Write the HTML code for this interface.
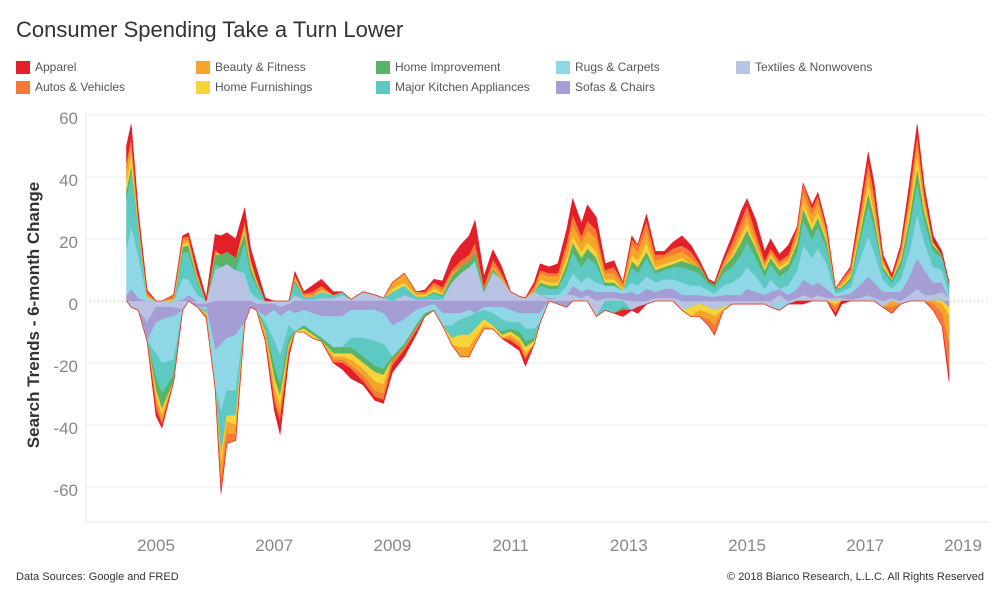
<!DOCTYPE html>
<html><head><meta charset="utf-8"><style>
body{margin:0;background:#fff;font-family:"Liberation Sans",sans-serif;}
#wrap{position:relative;width:1000px;height:600px;overflow:hidden;}
.lg{position:absolute;font-size:12px;color:#555;}
.lg span{position:absolute;left:0;top:1px;width:14px;height:13px;}
.lg b{font-weight:normal;position:absolute;left:19px;top:0;white-space:nowrap;}
</style></head><body>
<div id="wrap">
<div style="position:absolute;left:16px;top:17px;font-size:22px;color:#333;">Consumer Spending Take a Turn Lower</div>
<div id="legend"></div>
<svg id="chart" width="1000" height="600" style="position:absolute;left:0;top:0;"></svg>
<div style="position:absolute;left:16px;top:571px;font-size:11px;color:#333;">Data Sources: Google and FRED</div>
<div style="position:absolute;right:16px;top:571px;font-size:11px;color:#333;">© 2018 Bianco Research, L.L.C. All Rights Reserved</div>
</div>
<script>
const dates=[2004.5,2004.58,2004.7,2004.85,2005.0,2005.1,2005.3,2005.45,2005.55,2005.7,2005.85,2006.0,2006.1,2006.2,2006.35,2006.5,2006.6,2006.7,2006.85,2007.0,2007.1,2007.25,2007.35,2007.5,2007.65,2007.8,2008.0,2008.15,2008.3,2008.5,2008.7,2008.85,2009.0,2009.2,2009.4,2009.55,2009.7,2009.85,2010.0,2010.15,2010.3,2010.4,2010.55,2010.7,2010.85,2011.0,2011.15,2011.25,2011.4,2011.5,2011.65,2011.8,2011.95,2012.05,2012.2,2012.3,2012.45,2012.6,2012.75,2012.9,2013.05,2013.15,2013.3,2013.45,2013.6,2013.75,2013.9,2014.05,2014.2,2014.35,2014.45,2014.6,2014.75,2014.9,2015.0,2015.15,2015.3,2015.4,2015.55,2015.7,2015.85,2015.95,2016.1,2016.2,2016.35,2016.5,2016.6,2016.75,2016.9,2017.05,2017.15,2017.3,2017.45,2017.6,2017.75,2017.88,2018.0,2018.15,2018.3,2018.42];
const apparel=[5,4,2,0.5,-2,-1,0,0.5,1,2, 1,5,6,6,6,4,3,3,1,-2, -4,-1,1,0.5,2,2,1,-2,-3,-1, -1,-1,-2,-2,-1,0.5,1,2,4,5, 6,7,3,3,2,-1,-1,-2,1,2, 2,3,4,5,4,5,4,2,2,-2, 1,-2,2,1,1,2,3,2,1,0.5, 0.5,1,2,3,2,4,3,3,2,3, -1,-1,1,1,1,-1,-1,0.5,2,3, 3,1,1,1,3,3,2,2,1,-2];
const autos=[2,2,1,1,-2,-1,1,1,1,1, -0.5,0.5,-4,-3,-2,1,1,0.5,-1,-2, -2,-1,0.5,0.5,1,1,-1,-1,-1,-2, -2,-2,-2,-1,-1,0.5,1,1,1,2, 2,3,1,2,1,-1,-1,-1,1,1, 1,1,2,3,2,3,3,1,2,1, 2,2,3,2,1,2,2,2,1,-2, -3,1,2,3,3,2,1,1,1,1, 2,3,2,2,1,-2,1,1,2,3, 3,1,-2,1,2,3,2,-2,-4,-10];
const beauty=[4,3,1,0.5,-2,-2,0.5,1,1,0.5, -0.5,0.5,-5,-4,-3,2,1,0.5,-1,-3, -3,-1,0.5,0.5,0.5,0.5,-1,-1,-2,-2, -3,-3,2,3,1,0.5,1,1,1,-3, -3,-2,-1,1,1,-1,-1,-1,1,2, 2,2,3,4,3,4,4,2,2,1, 3,3,4,2,2,2,2,2,-2,-2, -3,1,2,2,3,2,1,1,1,1, 2,3,3,3,2,-1,1,1,2,4, 3,1,-2,2,3,4,2,-1,-3,-9];
const furnishings=[3,4,1,0.5,-2,-2,0.5,1,1,0.5, -0.5,0.5,-3,-2,-3,1,1,0.5,-1,-3, -3,-1,0.5,-1,-1,0.5,-1,-1,-2,-2, -3,-3,1,1,0.5,0.5,1,0.5,-2,-4, -4,-3,-2,-1,-1,-1,-1,-2,-1,1, 1,1,2,2,2,2,2,1,1,0.5, 2,2,3,1,1,1,1,-3,-2,-2, -2,-1,1,2,2,1,1,1,1,1, 1,2,2,2,1,-1,0.5,1,2,3, 2,1,0.5,1,3,4,2,1,-1,-3];
const improvement=[3,2,1,0,-4,-5,-2,2,2,1, 0,3,4,4,4,3,2,1,-1,-4, -4,-2,1,-1,-1,-1,-2,-2,-2,-2, -2,-2,-1,-1,-1,-1,0.5,0.5,2,2, 2,3,1,1,-1,-1,-2,-2,-1,1, 1,1,2,3,3,3,2,1,1,-1, 2,2,2,1,1,1,2,2,2,1, 1,2,3,4,4,3,2,2,2,2, 3,4,3,3,2,0.5,0.5,1,2,4, 3,1,1,2,3,5,3,2,1,1];
const kitchen=[16,18,8,0,-8,-10,-5,8,9,4, -1,2,-14,-8,-8,10,6,4,-2,-8, -9,-4,4,1,1,2,1,1,-3,-6, -8,-8,3,3,1,1,2,1,-4,-5, -6,-5,-3,-4,-4,-2,-3,-4,-3,3, 2,2,5,7,5,6,6,-3,-4,-2, 5,4,6,3,3,4,5,5,4,2, 2,4,5,7,8,6,4,5,4,5, 6,8,6,7,5,1,1,2,6,10, 8,3,2,4,8,10,7,5,4,3];
const rugs=[15,20,14,1,-10,-14,-14,7,5,2, -1,-12,-22,-17,-18,1,2,1,-2,-10, -13,-5,-6,-5,-6,-7,-10,-10,-9,-9, -10,-10,-10,-8,-5,-2,-2,-4,-4,-2, -2,2,-1,-2,-4,-4,-3,-5,-5,-3, 1,1,3,4,3,4,3,2,2,1, 3,3,4,3,3,3,4,3,3,2, 1,3,4,6,7,5,2,4,-3,3, 6,11,9,11,8,1,1,2,8,13, 10,4,1,4,8,14,9,5,4,1];
const sofas=[2,4,1,-6,-5,-4,-3,0.5,2,-1, -1,-16,-14,-12,-11,-7,-2,-2,-4,-2, -3,-2,-4,-3,-4,-5,-5,-5,-3,-3, -3,-4,-8,-6,-3,-2,-1,-4,-4,-4, -3,-4,-2,-2,-2,-3,-4,-4,-4,-4, 0.5,-1,-2,3,2,2,3,2,2,2, 3,2,4,2,3,3,2,2,2,1.5, 1.5,2,2,2,4,3,2,3,2,2, 3,5,4,4,3,0.5,1,2,4,6, 5,3,2,3,6,10,8,4,3,-2];
const textiles=[0,-2,-3,-7,-2,-2,-2,-3,0,-1, -1,10,11,12,10,8,1,-1,-1,-1, -2,-1,2,0.5,0.5,1,1,2,0.5,3, 2,1,0,2,0.5,0.5,0.5,0.5,6,9, 11,11,3,9.5,7,3,1.5,1,3,2, 0.5,1,2,2,1,2,-5,1,1,0.5, -3,-2,-1,1,1,1,-3,-2,-1,-2, -3,-2,-1,-1,-1,-1,-1,-2,2,-1, 1,2,1,2,1,1,1,0.5,1,2, 1,-2,1,-1,2,4,2,2,3,1];
const seriesNames=["Apparel","Autos & Vehicles","Beauty & Fitness","Home Furnishings","Home Improvement","Major Kitchen Appliances","Rugs & Carpets","Sofas & Chairs","Textiles & Nonwovens"];
const yTicks=[60,40,20,0,-20,-40,-60];
const xTicks=[2005,2007,2009,2011,2013,2015,2017,2019];

const colors={"Apparel":"#e3202a","Autos & Vehicles":"#f57a38","Beauty & Fitness":"#f5a52a","Home Furnishings":"#f8d43c","Home Improvement":"#59b46a","Major Kitchen Appliances":"#5ec9c2","Rugs & Carpets":"#8fd7e6","Sofas & Chairs":"#a59ed4","Textiles & Nonwovens":"#b9c3e3"};
const dataByName={"Apparel":apparel,"Autos & Vehicles":autos,"Beauty & Fitness":beauty,"Home Furnishings":furnishings,"Home Improvement":improvement,"Major Kitchen Appliances":kitchen,"Rugs & Carpets":rugs,"Sofas & Chairs":sofas,"Textiles & Nonwovens":textiles};
const NS="http://www.w3.org/2000/svg";
const svg=document.getElementById('chart');
const X=y=>156+(y-2005)*59.1;
const Y=v=>301-v*3.1;
function mk(t,a){const e=document.createElementNS(NS,t);for(const k in a)e.setAttribute(k,a[k]);svg.appendChild(e);return e;}

const legendOrder=[["Apparel",16,60],["Autos & Vehicles",16,80],["Beauty & Fitness",196,60],["Home Furnishings",196,80],["Home Improvement",376,60],["Major Kitchen Appliances",376,80],["Rugs & Carpets",556,60],["Sofas & Chairs",556,80],["Textiles & Nonwovens",736,60]];
const lg=document.getElementById('legend');
legendOrder.forEach(([n,x,y])=>{const d=document.createElement('div');d.className='lg';d.style.left=x+'px';d.style.top=y+'px';


d.innerHTML='<span style="background:'+colors[n]+'"></span><b>'+n+'</b>';lg.appendChild(d);});

yTicks.forEach(t=>{
const g=mk('line',{x1:86,x2:988,y1:Y(t),y2:Y(t),stroke:t===0?'#bbb':'#eee','stroke-width':1,'stroke-dasharray':t===0?'1,3':'none'});


const tx=mk('text',{x:78,y:Y(t)+9,'text-anchor':'end','font-size':17,fill:'#888','font-family':'Liberation Sans, sans-serif'});
tx.textContent=t;


});
const ax=mk('line',{x1:86,x2:86,y1:112,y2:522,stroke:'#e4e4e4'});


const bx=mk('line',{x1:86,x2:988,y1:522,y2:522,stroke:'#e4e4e4'});


xTicks.forEach(t=>{
const px=Math.min(X(t),963);
const tx=mk('text',{x:px,y:551,'text-anchor':'middle','font-size':17,fill:'#888','font-family':'Liberation Sans, sans-serif'});
tx.textContent=t;


});
const yt=mk('text',{x:0,y:0,transform:'translate(39,315) rotate(-90)','text-anchor':'middle','font-size':17,fill:'#333','font-weight':'bold','font-family':'Liberation Sans, sans-serif'});
yt.textContent='Search Trends - 6-month Change';



const stackOrder=["Textiles & Nonwovens","Sofas & Chairs","Rugs & Carpets","Major Kitchen Appliances","Home Improvement","Home Furnishings","Beauty & Fitness","Autos & Vehicles","Apparel"];
const n=dates.length;
const posBase=new Array(n).fill(0), negBase=new Array(n).fill(0);
stackOrder.forEach(name=>{
const vals=dataByName[name];
['pos','neg'].forEach(side=>{
const base=side==='pos'?posBase:negBase;
const lo=[],hi=[];
for(let i=0;i<n;i++){const v=vals[i];const c=side==='pos'?Math.max(v,0):Math.min(v,0);lo.push(base[i]);hi.push(base[i]+c);base[i]+=c;}
const pts=[];
for(let i=0;i<n;i++)pts.push(X(dates[i]).toFixed(1)+','+Y(hi[i]).toFixed(1));
for(let i=n-1;i>=0;i--)pts.push(X(dates[i]).toFixed(1)+','+Y(lo[i]).toFixed(1));
const p=mk('polygon',{points:pts.join(' '),fill:colors[name],stroke:colors[name],'stroke-width':0.6,'stroke-linejoin':'round'});


});
});
</script>
</body></html>
